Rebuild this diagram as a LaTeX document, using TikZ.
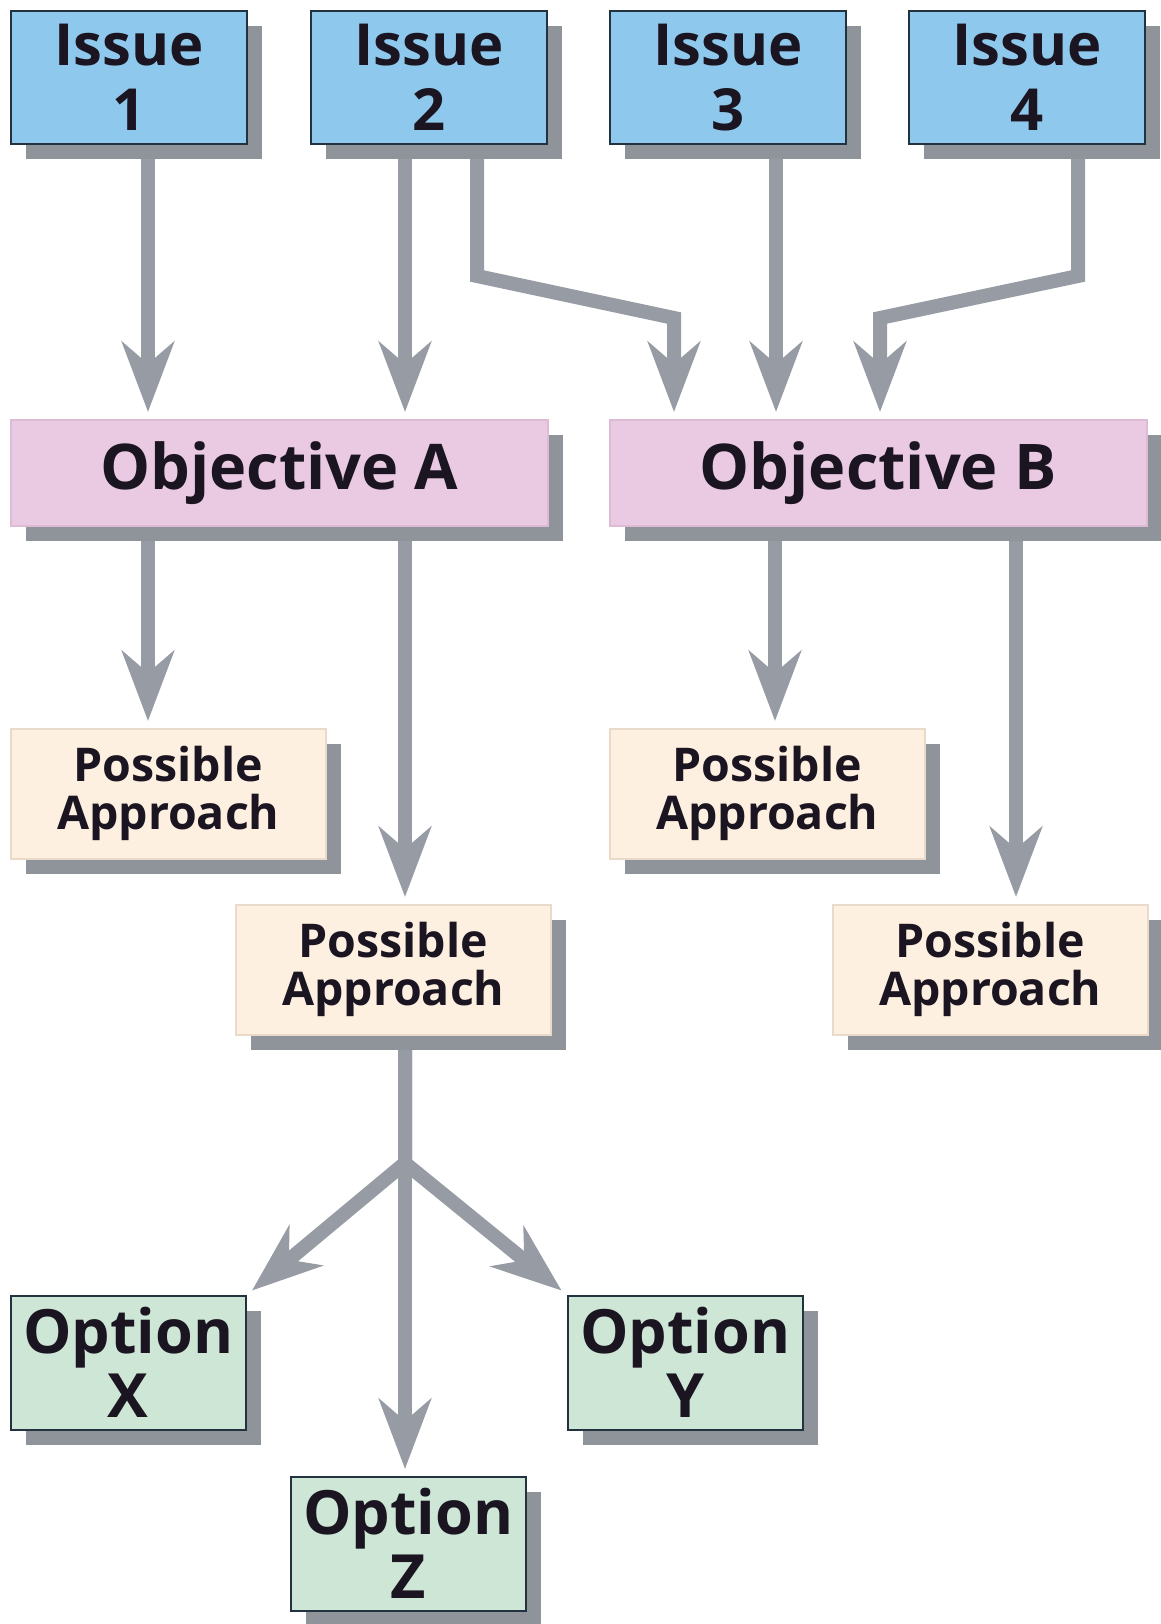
\documentclass[tikz,border=0pt]{standalone}
\usepackage{fontspec}
\setmainfont{Open Sans}
\usetikzlibrary{arrows.meta,shadows,backgrounds}
\definecolor{issuefill}{HTML}{8EC8EC}
\definecolor{objfill}{HTML}{EAC9E2}
\definecolor{objline}{HTML}{DDBBD4}
\definecolor{pafill}{HTML}{FDF0E1}
\definecolor{paline}{HTML}{EADACA}
\definecolor{optfill}{HTML}{CEE6D6}
\definecolor{darkline}{HTML}{22323F}
\definecolor{shade}{HTML}{8F949B}
\definecolor{arr}{HTML}{979CA4}
\definecolor{txt}{HTML}{1A1520}
\begin{document}
\begin{tikzpicture}[x=1pt,y=-1pt,
  box/.style={anchor=north west, inner sep=0pt, align=center, text=txt,
    line width=1.6pt,
    drop shadow={shadow xshift=15pt, shadow yshift=-15pt, opacity=1, fill=shade}},
  issue/.style={box, draw=darkline, fill=issuefill, minimum width=236pt, minimum height=133pt,
    font={\fontsize{58}{65}\selectfont\bfseries}},
  objective/.style={box, draw=objline, fill=objfill, minimum width=537pt, minimum height=106pt,
    font={\fontsize{63}{70}\selectfont\bfseries}},
  approach/.style={box, draw=paline, fill=pafill, minimum width=315pt, minimum height=130pt,
    font={\fontsize{46.5}{48}\selectfont\bfseries}},
  option/.style={box, draw=darkline, fill=optfill, minimum width=235pt, minimum height=134pt,
    font={\fontsize{61}{64}\selectfont\bfseries}},
  conn/.style={draw=arr, line width=14pt, line join=miter,
    -{Stealth[length=70pt, width=52pt, inset=22pt]}, shorten >=7pt}
]
\useasboundingbox (0,0) rectangle (1160,1624);

% Issues
\node[issue] (i1) at (10,10) {Issue\\1};
\node[issue] (i2) at (310,10) {Issue\\2};
\node[issue] (i3) at (609,10) {Issue\\3};
\node[issue] (i4) at (908,10) {Issue\\4};

% Objectives
\node[objective] (oa) at (10,419) {Objective A};
\node[objective] (ob) at (609,419) {Objective B};

% Possible approaches
\node[approach] (pa1) at (10,728) {Possible\\Approach};
\node[approach] (pa3) at (609,728) {Possible\\Approach};
\node[approach] (pa2) at (235,904) {Possible\\Approach};
\node[approach] (pa4) at (832,904) {Possible\\Approach};

% Options
\node[option] (ox) at (10,1295) {Option\\X};
\node[option] (oy) at (567,1295) {Option\\Y};
\node[option] (oz) at (290,1476) {Option\\Z};

\coordinate (br) at (405,1163);
\coordinate (b2a) at (477,276);
\coordinate (b2b) at (674,318);
\coordinate (b4a) at (1078,276);
\coordinate (b4b) at (880,318);

\begin{scope}[on background layer]
  \draw[conn] (148,0 |- i1.south) -- (148,0 |- oa.north);
  \draw[conn] (405,0 |- i2.south) -- (405,0 |- oa.north);
  \draw[conn] (b2a |- i2.south) -- (b2a) -- (b2b) -- (b2b |- ob.north);
  \draw[conn] (776,0 |- i3.south) -- (776,0 |- ob.north);
  \draw[conn] (b4a |- i4.south) -- (b4a) -- (b4b) -- (b4b |- ob.north);

  \draw[conn] (148,0 |- oa.south) -- (148,0 |- pa1.north);
  \draw[conn] (405,0 |- oa.south) -- (405,0 |- pa2.north);
  \draw[conn] (775,0 |- ob.south) -- (775,0 |- pa3.north);
  \draw[conn] (1016,0 |- ob.south) -- (1016,0 |- pa4.north);

  \draw[conn] (br |- pa2.south) -- (br) -- (ox.north east);
  \draw[conn] (br |- pa2.south) -- (br) -- (oy.north west);
  \draw[conn] (br |- pa2.south) -- (br) -- (br |- oz.north);
\end{scope}
\end{tikzpicture}
\end{document}
